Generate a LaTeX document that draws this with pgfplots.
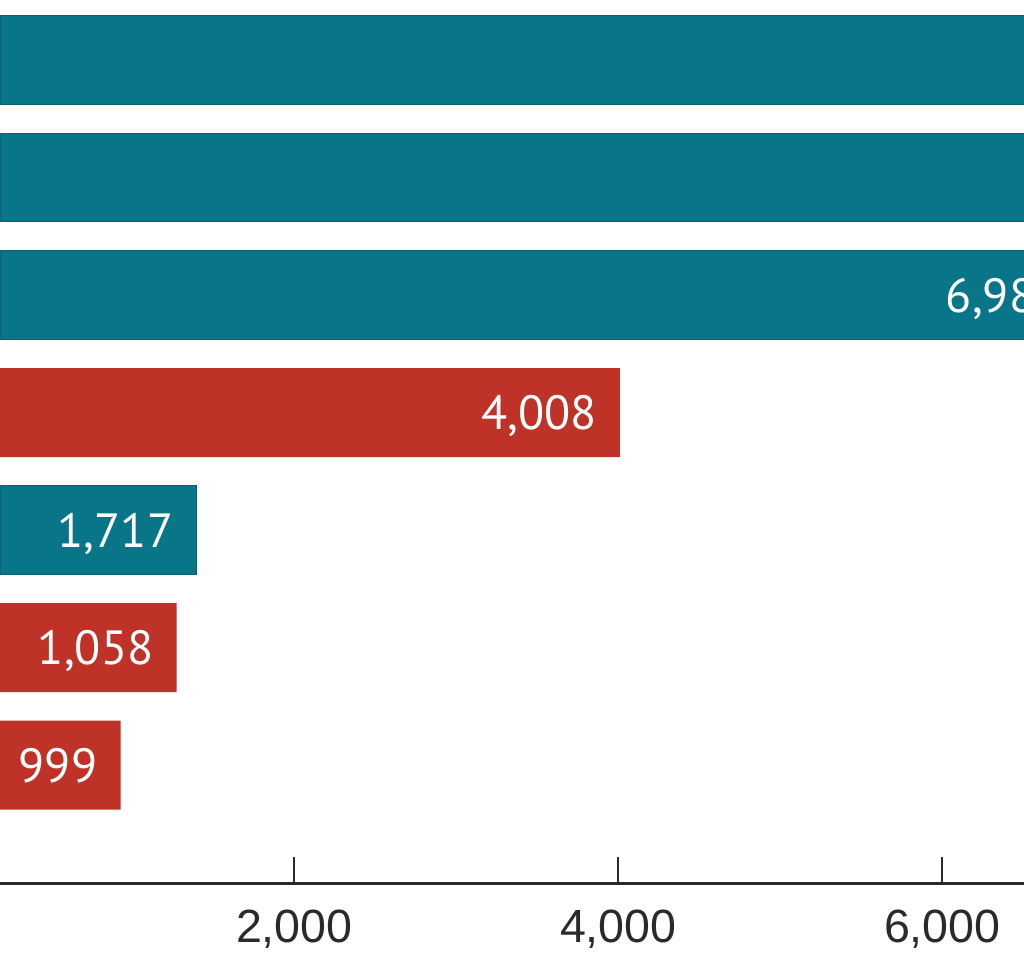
\documentclass[border=0pt]{standalone}
\usepackage{pgfplots}
\pgfplotsset{compat=1.18}
\usepackage{pgfplotstable}
\usepackage{fontspec}
\setmainfont{PT Sans}
\newfontfamily\tickfont{Liberation Sans}

\definecolor{barteal}{HTML}{097588}
\definecolor{barred}{HTML}{BF3227}
\definecolor{axisgray}{HTML}{2A2A2A}

% bar lengths as drawn (the small bars are not to scale), labels as printed
\pgfplotstableread{
len  pos label
7600 1   {}
7600 2   {}
}\tealtop
\pgfplotstableread{
len  pos label
6880 3   6,984
1397 5   1,717
}\teallab
\pgfplotstableread{
len  pos label
4010 4   4,008
1274 6   1,058
928  7   999
}\redlab

\begin{document}
\begin{tikzpicture}
  \begin{axis}[
      name=ax,
      scale only axis,
      % 0.081pt per unit; the page shows 183 to 6504 only
      width=616.98pt, height=441.65pt,
      xmin=183, xmax=7800,
      ymin=0.49, ymax=8.005,
      y dir=reverse,
      axis x line*=bottom,
      axis y line=none,
      x axis line style={line width=1.2pt, axisgray},
      xtick={2000,4000,6000},
      xtick align=inside,
      major tick length=13pt,
      xtick style={line width=1pt, axisgray},
      ytick=\empty,
      /pgf/number format/assume math mode=true,
      /pgf/number format/1000 sep={,},
      xticklabel style={font=\tickfont\fontsize{23.3}{24}\selectfont,
        text=axisgray, inner sep=0pt, anchor=north, yshift=-13.3pt},
      xbar, bar shift=0pt, bar width=0.757,
      point meta=explicit symbolic,
  ]
  \addplot[fill=barteal, draw=barteal!85!black, line width=0.5pt]
      table[x=len, y=pos] {\tealtop};
  \addplot[fill=barteal, draw=barteal!85!black, line width=0.5pt,
      nodes near coords,
      every node near coord/.append style={anchor=base east, xshift=-11.5pt,
        yshift=-8.5pt, inner sep=0pt, text=white,
        font=\fontsize{24}{25}\selectfont}]
      table[x=len, y=pos, meta=label] {\teallab};
  \addplot[fill=barred, draw=none,
      nodes near coords,
      every node near coord/.append style={anchor=base east, xshift=-11.5pt,
        yshift=-8.5pt, inner sep=0pt, text=white,
        font=\fontsize{24}{25}\selectfont}]
      table[x=len, y=pos, meta=label] {\redlab};
  \end{axis}
  \pgfresetboundingbox
  \path[use as bounding box] ([yshift=-38.35pt]ax.south west)
      rectangle ([xshift=512pt]ax.north west);
\end{tikzpicture}
\end{document}
